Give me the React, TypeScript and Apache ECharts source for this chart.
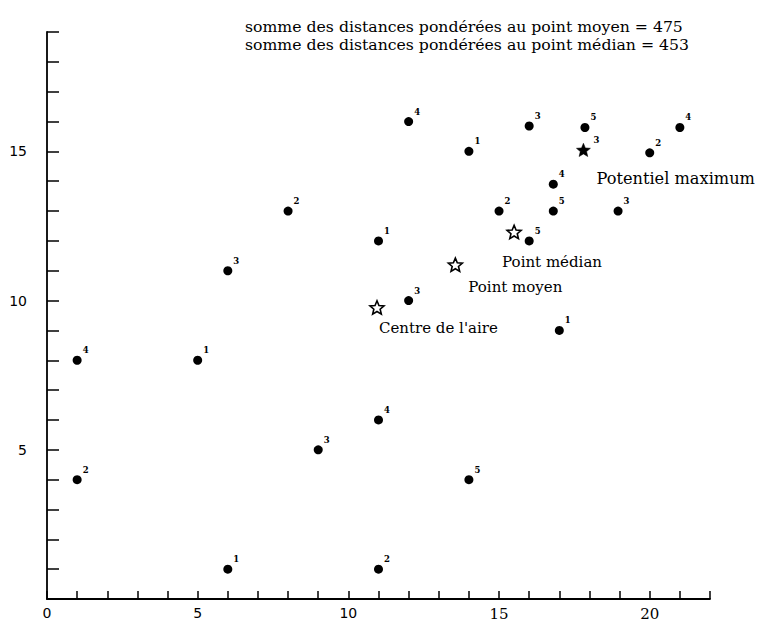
import React, { useEffect, useRef } from "react";
import * as echarts from "echarts";

const titleLines = [
  "somme des distances pondérées au point moyen = 475",
  "somme des distances pondérées au point médian = 453",
];

const pointX = [1, 1, 5, 6, 6, 8, 9, 11, 11, 11, 12, 12, 14, 14, 15, 16, 16, 16.8, 16.8, 17, 17.85, 18.95, 20, 21];
const pointY = [8, 4, 8, 11, 1, 13, 5, 12, 6, 1, 16, 10, 15, 4, 13, 15.85, 12, 13.9, 13, 9, 15.8, 13, 14.95, 15.8];
const pointWeight = [4, 2, 1, 3, 1, 2, 3, 1, 4, 2, 4, 3, 1, 5, 2, 3, 5, 4, 5, 1, 5, 3, 2, 4];

const starNames = ["Centre de l'aire", "Point moyen", "Point médian", "Potentiel maximum"];
const starX = [10.95, 13.55, 15.5, 17.8];
const starY = [9.77, 11.2, 12.3, 15.05];
const starFilled = [false, false, false, true];
const maxStarWeight = 3;

const xTickLabels = [0, 5, 10, 15, 20];
const yTickLabels = [5, 10, 15];

const starLabelOffsets = [
  [2, 21],
  [13, 22],
  [-12, 30],
  [13, 29],
];
const starLabelSizes = [15, 15, 15, 16.2];

const starPath = (() => {
  const pts: string[] = [];
  for (let i = 0; i < 10; i++) {
    const a = -Math.PI / 2 + (i * Math.PI) / 5;
    const r = i % 2 === 0 ? 10 : 4.5;
    pts.push(`${(r * Math.cos(a)).toFixed(3)} ${(r * Math.sin(a)).toFixed(3)}`);
  }
  return "path://M" + pts.join(" L") + " Z";
})();

const SERIF = "'DejaVu Serif', 'Liberation Serif', serif";
const SANS = "'DejaVu Sans', 'Liberation Sans', sans-serif";

export default function App() {
  const ref = useRef<HTMLDivElement>(null);
  useEffect(() => {
    document.body.style.margin = "0";
    document.body.style.overflow = "hidden";
    const chart = echarts.init(ref.current!, undefined, { renderer: "svg" });
    const weightLabel = {
      show: true,
      position: "right",
      distance: 1,
      formatter: (p: any) => `${p.value[2]}`,
      fontSize: 8.5,
      fontWeight: "bold",
      fontFamily: SERIF,
      color: "#000",
    };
    const option: any = {
      animation: false,
      backgroundColor: "#fff",
      title: {
        text: titleLines.join("\n"),
        left: 245,
        top: 17,
        padding: 0,
        textStyle: {
          fontFamily: SERIF,
          fontSize: 15.7,
          fontWeight: "normal",
          color: "#000",
          lineHeight: 18,
        },
      },
      grid: { left: 47, right: 48, top: 32, bottom: 18, containLabel: false },
      xAxis: {
        type: "value",
        min: 0,
        max: 22,
        interval: 1,
        splitLine: { show: false },
        axisLine: { show: true, onZero: false, lineStyle: { color: "#000", width: 1.8 } },
        axisTick: { show: true, inside: true, length: 8, lineStyle: { color: "#000", width: 1.5 } },
        axisLabel: {
          margin: 7,
          color: "#000",
          fontSize: 14,
          fontFamily: SANS,
          formatter: (v: number) => {
            if (!xTickLabels.includes(v)) return "";
            return v >= 15 ? `{s|${v}}` : `${v}`;
          },
          rich: { s: { fontFamily: SERIF, fontSize: 15, color: "#000" } },
        },
      },
      yAxis: {
        type: "value",
        min: 0,
        max: 19,
        interval: 1,
        splitLine: { show: false },
        axisLine: { show: true, onZero: false, lineStyle: { color: "#000", width: 1.8 } },
        axisTick: { show: true, inside: true, length: 12, lineStyle: { color: "#000", width: 1.5 } },
        axisLabel: {
          margin: 20,
          color: "#000",
          fontSize: 14,
          fontFamily: SANS,
          formatter: (v: number) => (yTickLabels.includes(v) ? `${v}` : ""),
        },
      },
      series: [
        {
          type: "scatter",
          silent: true,
          symbol: "circle",
          symbolSize: 9,
          itemStyle: { color: "#000", opacity: 1 },
          data: pointX.map((x, i) => [x, pointY[i], pointWeight[i]]),
          label: { ...weightLabel, offset: [0, -10] },
        },
        {
          type: "scatter",
          silent: true,
          symbol: starPath,
          symbolSize: 14,
          symbolKeepAspect: true,
          data: starX.map((x, i) => ({
            value: [x, starY[i]],
            name: starNames[i],
            itemStyle: starFilled[i]
              ? { color: "#000", borderColor: "#000", borderWidth: 0.5, opacity: 1 }
              : { color: "#fff", borderColor: "#000", borderWidth: 1.6, opacity: 1 },
            label: {
              show: true,
              position: "inside",
              align: "left",
              verticalAlign: "middle",
              offset: starLabelOffsets[i],
              formatter: starNames[i],
              fontFamily: SERIF,
              fontSize: starLabelSizes[i],
              color: "#000",
            },
          })),
        },
        {
          type: "scatter",
          silent: true,
          symbol: "circle",
          symbolSize: 14,
          itemStyle: { color: "rgba(0,0,0,0)", opacity: 1 },
          data: [[starX[3], starY[3], maxStarWeight]],
          label: { ...weightLabel, offset: [2, -10] },
        },
      ],
    };
    chart.setOption(option);
    return () => chart.dispose();
  }, []);
  return <div ref={ref} style={{ width: 758, height: 621 }} />;
}
